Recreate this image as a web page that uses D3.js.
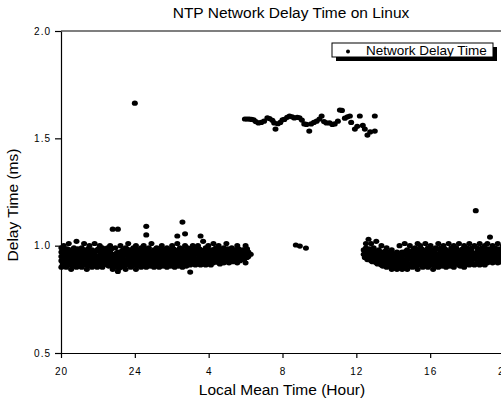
<!DOCTYPE html>
<html>
<head>
<meta charset="utf-8">
<script src="https://cdn.jsdelivr.net/npm/d3@7"></script>
<style>
    body { margin:0; background:#fff; }
    svg { display:block; font-family:"Liberation Sans",Arial,sans-serif; }
</style>
</head>
<body>
<svg id="chart" width="501" height="402"></svg>
<script>
// hours are counted from 20:00 of the first day (24 = midnight, 44 = 20:00 next day)
const hourTicks = [20,24,28,32,36,40,44];
const delayTicks = [0.5,1.0,1.5,2.0];

// evening / night band : [hour, [delays]]
const nightBand = [
    [20.02,[0.90,0.93,0.95,0.97,0.99]],[20.15,[0.92,0.94,0.96,1.00]],[20.28,[0.90,0.93,0.96,0.98]],
    [20.42,[0.91,0.94,0.97,1.01]],[20.55,[0.89,0.92,0.95,0.98]],[20.70,[0.91,0.94,0.96,0.99]],
    [20.84,[0.90,0.93,0.97,1.02]],[20.98,[0.92,0.95,0.97]],[21.12,[0.90,0.93,0.96,0.99]],
    [21.25,[0.91,0.94,0.98,1.01]],[21.40,[0.89,0.93,0.95,0.97]],[21.54,[0.92,0.94,0.96,1.00]],
    [21.68,[0.90,0.93,0.96,0.98]],[21.82,[0.91,0.95,0.97,1.01]],[21.96,[0.90,0.92,0.95,0.98]],
    [22.10,[0.93,0.95,0.97,1.00]],[22.24,[0.90,0.94,0.96,0.99]],[22.38,[0.92,0.95,0.98]],
    [22.52,[0.91,0.94,0.96,0.99]],[22.66,[0.93,0.95,0.97,1.00]],[22.80,[0.89,0.91,0.94,0.96,1.077]],
    [22.94,[0.90,0.93,0.96,0.99]],[23.08,[0.88,0.92,0.95,0.97,1.077]],[23.22,[0.90,0.94,0.96,1.00]],
    [23.36,[0.91,0.93,0.95,0.98]],[23.50,[0.89,0.92,0.96,0.99]],[23.64,[0.91,0.94,0.97,1.01]],
    [23.78,[0.90,0.93,0.95,0.98]],[23.92,[0.92,0.94,0.96,0.99]],[24.06,[0.89,0.93,0.95,0.97,1.00]],
    [24.20,[0.91,0.94,0.96,0.98]],[24.34,[0.90,0.92,0.95,0.99]],[24.48,[0.91,0.94,0.97,1.00]],
    [24.62,[0.90,0.93,0.96,0.98,1.05,1.09]],[24.76,[0.91,0.94,0.96,0.99]],[24.90,[0.92,0.95,0.97,1.01]],
    [25.04,[0.90,0.93,0.96,0.98]],[25.18,[0.91,0.94,0.95,0.99]],[25.32,[0.90,0.92,0.96,0.97]],
    [25.46,[0.92,0.94,0.97,1.00]],[25.60,[0.91,0.93,0.95,0.98]],[25.74,[0.90,0.94,0.96,0.99]],
    [25.88,[0.91,0.93,0.96,0.98]],[26.02,[0.92,0.95,0.97,1.00]],[26.16,[0.90,0.93,0.96,0.98]],
    [26.30,[0.91,0.94,0.97,1.01,1.045]],[26.44,[0.92,0.95,0.96,0.99]],[26.58,[0.90,0.93,0.96,0.98,1.11]],
    [26.72,[0.91,0.94,0.97,1.00,1.055]],[26.86,[0.92,0.94,0.96,0.99]],[27.00,[0.877,0.91,0.93,0.96,0.98]],
    [27.14,[0.92,0.95,0.97,1.00]],[27.28,[0.91,0.93,0.96,0.99]],[27.42,[0.92,0.94,0.97,1.00]],
    [27.56,[0.91,0.94,0.96,0.98,1.045]],[27.70,[0.92,0.95,0.97,1.02]],[27.84,[0.91,0.94,0.96,0.99]],
    [27.98,[0.92,0.95,0.97,1.00]],[28.12,[0.91,0.93,0.96,0.98]],[28.26,[0.92,0.94,0.97,1.01]],
    [28.40,[0.93,0.95,0.96,0.99]],[28.54,[0.92,0.94,0.97,1.00]],[28.68,[0.93,0.95,0.97]],
    [28.82,[0.92,0.94,0.96,0.99]],[28.96,[0.93,0.95,0.98,1.01]],[29.10,[0.92,0.94,0.96]],
    [29.25,[0.93,0.95,0.97,0.99]],[29.40,[0.94,0.96,0.98]],[29.55,[0.92,0.95,0.97,1.00]],
    [29.70,[0.93,0.96]],[29.85,[0.94,0.96,0.98]],[30.00,[0.92,0.95,1.00]],
    [30.15,[0.95,0.97]],[30.28,[0.96]]
];

// samples between the columns above, filling the core of the night band
const nightCore = [
    [20.09,[0.915,0.945,0.975]],[20.22,[0.905,0.935,0.965]],[20.35,[0.925,0.955,0.985]],[20.49,[0.915,0.945,0.965]],
    [20.62,[0.905,0.935,0.965]],[20.77,[0.925,0.955,0.975]],[20.91,[0.915,0.945,0.985]],[21.05,[0.905,0.935,0.965]],
    [21.19,[0.925,0.955,0.975]],[21.33,[0.915,0.945,0.965]],[21.47,[0.905,0.935,0.985]],[21.61,[0.915,0.955,0.975]],
    [21.75,[0.925,0.945,0.965]],[21.89,[0.905,0.935,0.975]],[22.03,[0.915,0.945,0.985]],[22.17,[0.905,0.935,0.965]],
    [22.31,[0.915,0.955,0.975]],[22.45,[0.925,0.945,0.965]],[22.59,[0.905,0.935,0.975]],[22.73,[0.915,0.945,0.985]],
    [22.87,[0.905,0.925,0.955]],[23.01,[0.915,0.935,0.965]],[23.15,[0.895,0.925,0.955]],[23.29,[0.915,0.945,0.975]],
    [23.43,[0.905,0.935,0.965]],[23.57,[0.925,0.955,0.985]],[23.71,[0.915,0.945,0.965]],[23.85,[0.905,0.935,0.975]],
    [23.99,[0.915,0.945,0.985]],[24.13,[0.905,0.935,0.965]],[24.27,[0.915,0.955,0.975]],[24.41,[0.925,0.945,0.965]],
    [24.55,[0.905,0.935,0.975]],[24.69,[0.915,0.945,0.985]],[24.83,[0.905,0.935,0.965]],[24.97,[0.915,0.955,0.975]],
    [25.11,[0.925,0.945,0.965]],[25.25,[0.905,0.935,0.975]],[25.39,[0.915,0.945,0.985]],[25.53,[0.905,0.935,0.965]],
    [25.67,[0.925,0.955,0.975]],[25.81,[0.915,0.945,0.965]],[25.95,[0.905,0.935,0.975]],[26.09,[0.915,0.945,0.985]],
    [26.23,[0.925,0.955,0.965]],[26.37,[0.905,0.935,0.975]],[26.51,[0.915,0.945,0.985]],[26.65,[0.925,0.955,0.975]],
    [26.79,[0.905,0.935,0.965]],[26.93,[0.915,0.945,0.975]],[27.07,[0.925,0.955,0.985]],[27.21,[0.915,0.945,0.965]],
    [27.35,[0.925,0.935,0.975]],[27.49,[0.915,0.955,0.985]],[27.63,[0.925,0.945,0.965]],[27.77,[0.915,0.935,0.975]],
    [27.91,[0.925,0.955,0.985]],[28.05,[0.915,0.945,0.965]],[28.19,[0.925,0.955,0.975]],[28.33,[0.935,0.945,0.985]],
    [28.47,[0.925,0.955,0.975]],[28.61,[0.915,0.945,0.985]],[28.75,[0.935,0.965]],[28.89,[0.925,0.955,0.975]],
    [29.03,[0.935,0.965,0.985]],[29.17,[0.945,0.975]],[29.32,[0.925,0.955]],[29.47,[0.935,0.965]],
    [29.62,[0.945,0.985]],[29.78,[0.955,0.975]],[29.92,[0.935,0.965]],[30.08,[0.945,0.985]]
];

// daytime band near 1.6 ms
const dayBand = [
    [29.96,1.59],[30.08,1.59],[30.20,1.59],[30.32,1.588],[30.44,1.586],[30.55,1.578],[30.70,1.572],
    [30.85,1.574],[31.00,1.58],[31.18,1.595],[31.30,1.592],[31.45,1.584],[31.55,1.572],[31.62,1.543],
    [31.75,1.568],[31.88,1.574],[32.00,1.586],[32.10,1.588],[32.25,1.598],[32.38,1.604],[32.52,1.60],
    [32.64,1.595],[32.80,1.598],[32.92,1.596],[33.05,1.585],[33.18,1.567],[33.30,1.565],[33.45,1.534],
    [33.55,1.567],[33.70,1.574],[33.85,1.58],[34.00,1.59],[34.12,1.604],[34.25,1.578],[34.38,1.572],
    [34.55,1.572],[34.70,1.565],[34.83,1.567],[35.00,1.58],[35.11,1.632],[35.22,1.63],[35.38,1.594],
    [35.52,1.60],[35.65,1.604],[35.72,1.574],[35.92,1.543],[36.05,1.556],[36.19,1.604],[36.35,1.56],
    [36.46,1.543],[36.60,1.515],[36.75,1.53],[37.00,1.604],[37.00,1.534]
];

// isolated samples
const strayPoints = [[24.00,1.664],[32.72,1.003],[32.94,0.998],[33.27,0.989]];

// afternoon / evening band : [hour, [delays]]
const eveningBand = [
    [36.40,[0.96,0.98]],[36.52,[0.95,0.99,1.01]],[36.66,[0.94,0.97,1.03]],[36.80,[0.93,0.96,0.98,1.01]],
    [36.94,[0.94,0.96,0.99]],[37.08,[0.92,0.95,0.97,1.02]],[37.22,[0.93,0.96,0.98]],[37.36,[0.91,0.94,0.97,1.00]],
    [37.50,[0.92,0.95,0.96]],[37.64,[0.90,0.93,0.96,0.99]],[37.78,[0.91,0.94,0.97]],[37.92,[0.89,0.92,0.95,0.98]],
    [38.06,[0.90,0.93,0.96]],[38.20,[0.89,0.91,0.94,0.97]],[38.34,[0.90,0.93,0.95,1.00]],[38.48,[0.89,0.92,0.94,0.97]],
    [38.62,[0.90,0.93,0.96,1.01]],[38.76,[0.89,0.92,0.95,0.98]],[38.90,[0.91,0.94,0.96,1.00]],[39.04,[0.90,0.92,0.95,0.97]],
    [39.18,[0.91,0.94,0.96,0.99]],[39.32,[0.89,0.93,0.95,0.98,1.01]],[39.46,[0.91,0.94,0.97,1.00]],[39.60,[0.90,0.93,0.96,0.98]],
    [39.74,[0.92,0.95,0.97,1.01]],[39.88,[0.90,0.93,0.96,0.99]],[40.02,[0.91,0.94,0.97,1.00]],[40.16,[0.89,0.93,0.95,0.98]],
    [40.30,[0.92,0.94,0.96,0.99]],[40.44,[0.90,0.93,0.96,1.01]],[40.58,[0.91,0.94,0.97,0.99]],[40.72,[0.92,0.95,0.97,1.00]],
    [40.86,[0.90,0.93,0.96,0.98]],[41.00,[0.91,0.94,0.97,1.01]],[41.14,[0.92,0.95,0.96,0.99]],[41.28,[0.90,0.93,0.96,1.00]],
    [41.42,[0.92,0.94,0.97,0.99]],[41.56,[0.91,0.95,0.97,1.01]],[41.70,[0.92,0.94,0.96,0.98]],[41.84,[0.90,0.93,0.96,1.00]],
    [41.98,[0.92,0.95,0.97,0.99]],[42.12,[0.91,0.94,0.96,1.01]],[42.26,[0.93,0.95,0.97,0.99]],[42.40,[0.91,0.94,0.96,1.00]],
    [42.47,[1.163]],[42.54,[0.92,0.95,0.97,0.99]],[42.68,[0.91,0.93,0.96,1.01]],[42.82,[0.93,0.95,0.97,0.99]],
    [42.96,[0.91,0.94,0.96,1.00]],[43.10,[0.92,0.95,0.98,1.01]],[43.24,[0.93,0.96,0.97,1.04]],[43.38,[0.92,0.94,0.97,1.00]],
    [43.52,[0.93,0.95,0.96,0.99]],[43.66,[0.92,0.94,0.97,1.01]],[43.80,[0.93,0.96,0.98]],[43.94,[0.92,0.95,0.97,1.00]]
];

// samples between the columns above, filling the core of the evening band
const eveningCore = [
    [36.46,[0.945,0.975]],[36.59,[0.935,0.965]],[36.73,[0.945,0.985]],[36.87,[0.925,0.955,0.975]],
    [37.01,[0.935,0.965]],[37.15,[0.915,0.945,0.975]],[37.29,[0.925,0.955]],[37.43,[0.905,0.935,0.965]],
    [37.57,[0.915,0.945,0.975]],[37.71,[0.905,0.925,0.955]],[37.85,[0.905,0.935,0.965]],[37.99,[0.895,0.925,0.945]],
    [38.13,[0.905,0.925,0.955]],[38.27,[0.895,0.915,0.945]],[38.41,[0.905,0.935,0.965]],[38.55,[0.895,0.925,0.955]],
    [38.69,[0.905,0.935,0.975]],[38.83,[0.915,0.945,0.965]],[38.97,[0.905,0.935,0.975]],[39.11,[0.915,0.945,0.985]],
    [39.25,[0.905,0.935,0.965]],[39.39,[0.915,0.945,0.975]],[39.53,[0.925,0.955,0.985]],[39.67,[0.915,0.945,0.965]],
    [39.81,[0.905,0.935,0.975]],[39.95,[0.915,0.955,0.985]],[40.09,[0.925,0.945,0.965]],[40.23,[0.905,0.935,0.975]],
    [40.37,[0.915,0.945,0.985]],[40.51,[0.925,0.955,0.965]],[40.65,[0.905,0.935,0.975]],[40.79,[0.915,0.945,0.985]],
    [40.93,[0.925,0.955,0.975]],[41.07,[0.905,0.935,0.965]],[41.21,[0.915,0.945,0.975]],[41.35,[0.925,0.955,0.985]],
    [41.49,[0.915,0.945,0.965]],[41.63,[0.905,0.935,0.975]],[41.77,[0.915,0.955,0.985]],[41.91,[0.925,0.945,0.965]],
    [42.05,[0.915,0.935,0.975]],[42.19,[0.925,0.955,0.985]],[42.33,[0.915,0.945,0.965]],[42.61,[0.925,0.955,0.975]],
    [42.75,[0.915,0.945,0.985]],[42.89,[0.925,0.955,0.965]],[43.03,[0.935,0.945,0.975]],[43.17,[0.925,0.955,0.985]],
    [43.31,[0.935,0.965,0.975]],[43.45,[0.925,0.945,0.985]],[43.59,[0.935,0.955,0.975]],[43.73,[0.925,0.945,0.985]],
    [43.87,[0.935,0.965]]
];

const chartTitle = "NTP Network Delay Time on Linux";
const xLabel = "Local Mean Time (Hour)";
const yLabel = "Delay Time (ms)";
const legendLabel = "Network Delay Time";

const plotLeft = 61;
const plotTop = 31;
const plotBottom = 353;
const plotRight = 504;
const svgWidth = 501;

const svg = d3.select("#chart");

const x = d3.scaleLinear().domain([20,44]).range([plotLeft,plotRight]);
const y = d3.scaleLinear().domain([0.5,2.0]).range([plotBottom,plotTop]);

const flattenBand = (band) => band.flatMap(([h,vals]) => vals.map(v => [h,v]));
const points = [
    ...flattenBand(nightBand),
    ...flattenBand(nightCore),
    ...dayBand,
    ...strayPoints,
    ...flattenBand(eveningBand),
    ...flattenBand(eveningCore)
];

// frame top line
svg.append("line")
    .attr("x1",plotLeft).attr("x2",svgWidth)
    .attr("y1",plotTop).attr("y2",plotTop)
    .attr("stroke","#000").attr("stroke-width",1.2);

const styleAxis = (g) =>
{
    g.select(".domain").attr("stroke","#000").attr("stroke-width",1.2);
    g.selectAll(".tick line").attr("stroke","#000").attr("stroke-width",1.2);
    g.selectAll(".tick text")
        .attr("fill","#000")
        .attr("font-size",10)
        .attr("letter-spacing","1px")
        .attr("font-family","\"Liberation Sans\",Arial,sans-serif");
}

svg.append("g")
    .attr("transform",`translate(0,${plotBottom})`)
    .call(d3.axisBottom(x)
        .tickValues(hourTicks)
        .tickFormat(h => h <= 24 ? h : h - 24)
        .tickSize(5)
        .tickSizeOuter(0)
        .tickPadding(10))
    .call(styleAxis);

svg.append("g")
    .attr("transform",`translate(${plotLeft},0)`)
    .call(d3.axisLeft(y)
        .tickValues(delayTicks)
        .tickFormat(d3.format(".1f"))
        .tickSize(6)
        .tickSizeOuter(0)
        .tickPadding(4))
    .call(styleAxis);

svg.append("g")
    .selectAll("ellipse")
    .data(points)
    .join("ellipse")
    .attr("cx",d => x(d[0]))
    .attr("cy",d => y(d[1]))
    .attr("rx",3)
    .attr("ry",2.6)
    .attr("fill","#000");

svg.append("text")
    .text(chartTitle)
    .attr("x",291)
    .attr("y",18)
    .attr("text-anchor","middle")
    .attr("font-size",15.5);

svg.append("text")
    .text(xLabel)
    .attr("x",282)
    .attr("y",395)
    .attr("text-anchor","middle")
    .attr("font-size",15.5);

svg.append("text")
    .text(yLabel)
    .attr("transform","translate(18,205) rotate(-90)")
    .attr("text-anchor","middle")
    .attr("font-size",15.5);

// legend with drop shadow
const legend = svg.append("g").attr("transform","translate(332,43)");
legend.append("rect")
    .attr("x",4).attr("y",4)
    .attr("width",161).attr("height",14)
    .attr("fill","#000");
legend.append("rect")
    .attr("width",161).attr("height",14)
    .attr("fill","#fff")
    .attr("stroke","#000")
    .attr("stroke-width",1);
legend.append("circle")
    .attr("cx",16).attr("cy",8.5)
    .attr("r",2)
    .attr("fill","#000");
legend.append("text")
    .text(legendLabel)
    .attr("x",34)
    .attr("y",12)
    .attr("font-size",13.5);
</script>
</body>
</html>
